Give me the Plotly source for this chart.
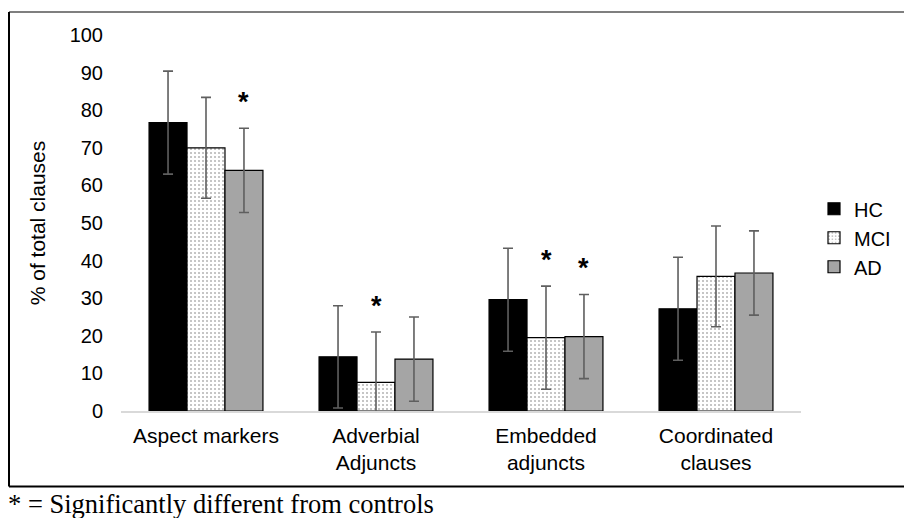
import plotly.graph_objects as go

categories = ["Aspect markers", "Adverbial<br>Adjuncts", "Embedded<br>adjuncts", "Coordinated<br>clauses"]
groups = ["HC", "MCI", "AD"]
hc = [76.7, 14.4, 29.6, 27.2]
mci = [70.0, 7.6, 19.5, 35.8]
ad = [64.0, 13.8, 19.8, 36.7]
hc_err = [13.7, 13.6, 13.7, 13.7]
mci_err = [13.4, 13.4, 13.7, 13.4]
ad_err = [11.2, 11.2, 11.2, 11.2]
# significance markers (1 = significantly different from controls)
mci_sig = [0, 1, 1, 0]
ad_sig = [1, 0, 1, 0]
yticks = list(range(0, 101, 10))

W, H = 904, 518
L, R, T, B = 121, 103, 35, 106.5
pw, ph = W - L - R, H - T - B

fig = go.Figure()
err_style = dict(type="data", color="#5f5f5f", thickness=1.6, width=5)
fig.add_trace(go.Bar(name="HC", x=categories, y=hc, error_y=dict(array=hc_err, **err_style),
                     marker=dict(color="black", line=dict(color="black", width=1.2))))
fig.add_trace(go.Bar(name="MCI", x=categories, y=mci, error_y=dict(array=mci_err, **err_style),
                     marker=dict(color="white", line=dict(color="black", width=1.2),
                                 pattern=dict(shape=".", fgcolor="#707070", bgcolor="white", size=4, solidity=0.22))))
fig.add_trace(go.Bar(name="AD", x=categories, y=ad, error_y=dict(array=ad_err, **err_style),
                     marker=dict(color="#a5a5a5", line=dict(color="black", width=1.2))))

# asterisks above error bars
offsets = {"MCI": 0.0, "AD": 0.2225}
for name, vals, errs, sig in [("MCI", mci, mci_err, mci_sig), ("AD", ad, ad_err, ad_sig)]:
    for i, s in enumerate(sig):
        if s:
            fig.add_annotation(x=i + offsets[name], y=vals[i] + errs[i] + 7.0, xref="x", yref="y",
                               text="<b>*</b>", showarrow=False,
                               font=dict(family="Liberation Sans, Arial", size=27, color="black"))

def px_x(p):
    return (p - L) / pw
def px_y(p):
    return (H - B - p) / ph

# outer border
fig.add_shape(type="line", xref="paper", yref="paper", x0=px_x(9), x1=px_x(910), y0=px_y(12), y1=px_y(12),
              line=dict(color="#7f7f7f", width=2))
fig.add_shape(type="line", xref="paper", yref="paper", x0=px_x(9), x1=px_x(9), y0=px_y(12), y1=px_y(487),
              line=dict(color="black", width=2))
fig.add_shape(type="line", xref="paper", yref="paper", x0=px_x(9), x1=px_x(910), y0=px_y(487), y1=px_y(487),
              line=dict(color="black", width=2))

fig.add_annotation(xref="paper", yref="paper", x=px_x(6), y=px_y(505), xanchor="left", yanchor="middle",
                   text="* = Significantly different from controls", showarrow=False,
                   font=dict(family="Liberation Serif, Times New Roman", size=26.5, color="black"))

fig.update_layout(
    width=W, height=H, margin=dict(l=L, r=R, t=T, b=B, autoexpand=False),
    paper_bgcolor="white", plot_bgcolor="white",
    barmode="group", bargap=0.33, bargroupgap=0,
    font=dict(family="Liberation Sans, Arial", size=20, color="black"),
    showlegend=True,
    legend=dict(x=px_x(814), y=px_y(238), xanchor="left", yanchor="middle",
                font=dict(size=20), itemwidth=30, tracegroupgap=0, bgcolor="rgba(0,0,0,0)"),
    xaxis=dict(showline=True, linecolor="#d9d9d9", linewidth=1.5, ticks="", showgrid=False,
               tickfont=dict(size=21), ticklabelstandoff=5),
    yaxis=dict(range=[0, 100], tickvals=yticks, showgrid=False, showline=False, zeroline=False,
               ticks="", tickfont=dict(size=20), ticklabelstandoff=17,
               title=dict(text="% of total clauses", font=dict(size=21), standoff=18)),
)
fig.write_html("out.html", config={"displayModeBar": False},
               post_script="document.body.style.margin='0px';")
